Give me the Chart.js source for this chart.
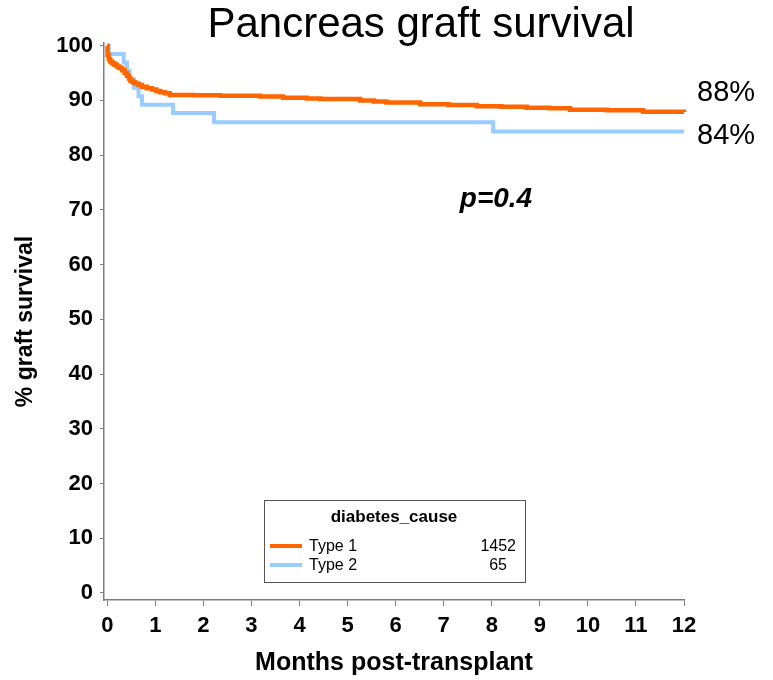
<!DOCTYPE html>
<html>
<head>
<meta charset="utf-8">
<title>Pancreas graft survival</title>
<script src="https://cdn.jsdelivr.net/npm/chart.js@4/dist/chart.umd.min.js"></script>
<style>
  html, body { margin: 0; padding: 0; background: #ffffff; }
  canvas { display: block; }
</style>
</head>
<body>
<canvas id="km" width="773" height="680"></canvas>
<script>
// Kaplan-Meier pancreas graft survival by cause of diabetes
const groupNames = ['Type 1', 'Type 2'];
const groupCounts = [1452, 65];
const groupColors = ['#FF6600', '#99CCFF'];

const type1Months = [0, 0.005, 0.03, 0.06, 0.10, 0.15, 0.20, 0.25, 0.31, 0.36, 0.41, 0.45, 0.48, 0.53,
  0.58, 0.65, 0.72, 0.82, 0.93, 1.02, 1.10, 1.20, 1.30, 1.80, 2.35, 3.18, 3.66, 4.15, 4.43, 5.26,
  5.55, 5.81, 6.51, 7.10, 7.69, 8.20, 8.73, 9.20, 9.63, 10.40, 11.15, 12.0];
const type1Survival = [100, 98.3, 97.5, 97.1, 96.8, 96.5, 96.2, 95.9, 95.5, 95.0, 94.5, 94.0, 93.6, 93.3,
  93.1, 92.8, 92.5, 92.2, 92.0, 91.7, 91.5, 91.3, 91.0, 90.95, 90.85, 90.7, 90.5, 90.35, 90.25, 90.0,
  89.8, 89.6, 89.3, 89.15, 88.95, 88.85, 88.65, 88.55, 88.3, 88.2, 87.95, 87.9];

const type2Months = [0, 0.03, 0.34, 0.41, 0.46, 0.55, 0.65, 0.72, 1.37, 2.22, 8.03, 12.0];
const type2Survival = [100, 98.46, 96.92, 95.38, 93.85, 92.31, 90.77, 89.23, 87.69, 86.0, 84.3, 84.3];

const monthTicks = [0, 1, 2, 3, 4, 5, 6, 7, 8, 9, 10, 11, 12];
const survivalTicks = [0, 10, 20, 30, 40, 50, 60, 70, 80, 90, 100];

const chartTitle = 'Pancreas graft survival';
const xTitle = 'Months post-transplant';
const yTitle = '% graft survival';
const legendTitle = 'diabetes_cause';
const pValueText = 'p=0.4';

const FONT = '"Liberation Sans", Arial, Helvetica, sans-serif';

function toPoints(xs, ys) {
  return xs.map((x, i) => ({ x: x, y: ys[i] }));
}

const seriesMonths = [type1Months, type2Months];
const seriesSurvival = [type1Survival, type2Survival];

const datasets = groupNames.map((name, i) => ({
  label: name,
  data: toPoints(seriesMonths[i], seriesSurvival[i]),
  borderColor: groupColors[i],
  backgroundColor: groupColors[i],
  borderWidth: i === 0 ? 4.5 : 4,
  stepped: true,
  pointRadius: 0,
  fill: false,
  clip: false
}));

// Title, end-of-curve percentages, p-value and the group legend box
const annotations = {
  id: 'annotations',
  afterDraw(chart) {
    const ctx = chart.ctx;
    ctx.save();
    ctx.fillStyle = '#000000';
    ctx.textBaseline = 'alphabetic';

    ctx.font = '42px ' + FONT;
    ctx.textAlign = 'center';
    ctx.fillText(chartTitle, 421, 37);

    // final survival of each group, printed at the right end
    ctx.font = '29px ' + FONT;
    ctx.textAlign = 'left';
    const endBaselines = [101, 144];
    seriesSurvival.forEach((s, i) => {
      ctx.fillText(Math.round(s[s.length - 1]) + '%', 697, endBaselines[i]);
    });

    ctx.font = 'italic bold 28px ' + FONT;
    ctx.textAlign = 'center';
    ctx.fillText(pValueText, 496, 207);

    // legend box
    ctx.strokeStyle = '#555555';
    ctx.lineWidth = 1;
    ctx.strokeRect(264.5, 500.5, 261, 82);
    ctx.font = 'bold 17px ' + FONT;
    ctx.textAlign = 'center';
    ctx.fillText(legendTitle, 394, 522);

    const rowY = [546, 565];
    const countRight = [516, 507];
    groupNames.forEach((name, i) => {
      ctx.strokeStyle = groupColors[i];
      ctx.lineWidth = 4;
      ctx.beginPath();
      ctx.moveTo(270, rowY[i]);
      ctx.lineTo(302, rowY[i]);
      ctx.stroke();
      ctx.font = '16px ' + FONT;
      ctx.textBaseline = 'middle';
      ctx.textAlign = 'left';
      ctx.fillText(name, 309, rowY[i] + 1);
      ctx.textAlign = 'right';
      ctx.fillText(String(groupCounts[i]), countRight[i], rowY[i] + 1);
    });
    ctx.restore();
  }
};

new Chart(document.getElementById('km'), {
  type: 'line',
  data: { datasets: datasets },
  options: {
    responsive: false,
    animation: false,
    events: [],
    layout: { padding: { top: 43, right: 89, bottom: 0, left: 0 } },
    plugins: {
      legend: { display: false },
      title: { display: false },
      tooltip: { enabled: false }
    },
    scales: {
      x: {
        type: 'linear',
        min: -0.069,
        max: 12,
        afterBuildTicks(scale) { scale.ticks = monthTicks.map(v => ({ value: v })); },
        afterFit(scale) { scale.height = 80; },
        grid: { display: true, drawOnChartArea: false, drawTicks: true, tickLength: 6, color: '#7f7f7f', lineWidth: 1 },
        border: { display: true, color: '#7f7f7f', width: 1.5 },
        ticks: {
          autoSkip: false,
          maxRotation: 0,
          padding: 7,
          color: '#000000',
          font: { family: FONT, size: 22, weight: 'bold' }
        },
        title: {
          display: true,
          text: xTitle,
          color: '#000000',
          padding: { top: 0, bottom: 2 },
          font: { family: FONT, size: 25, weight: 'bold' }
        }
      },
      y: {
        type: 'linear',
        min: -1.28,
        max: 100.49,
        afterBuildTicks(scale) { scale.ticks = survivalTicks.map(v => ({ value: v })); },
        afterFit(scale) { scale.width = 104; },
        grid: { display: true, drawOnChartArea: false, drawTicks: true, tickLength: 4, color: '#7f7f7f', lineWidth: 1 },
        border: { display: true, color: '#7f7f7f', width: 1.5 },
        ticks: {
          autoSkip: false,
          padding: 7,
          color: '#000000',
          font: { family: FONT, size: 22, weight: 'bold' }
        },
        title: {
          display: true,
          text: yTitle,
          color: '#000000',
          padding: { top: 12, bottom: 0 },
          font: { family: FONT, size: 23, weight: 'bold' }
        }
      }
    }
  },
  plugins: [annotations]
});
</script>
</body>
</html>
